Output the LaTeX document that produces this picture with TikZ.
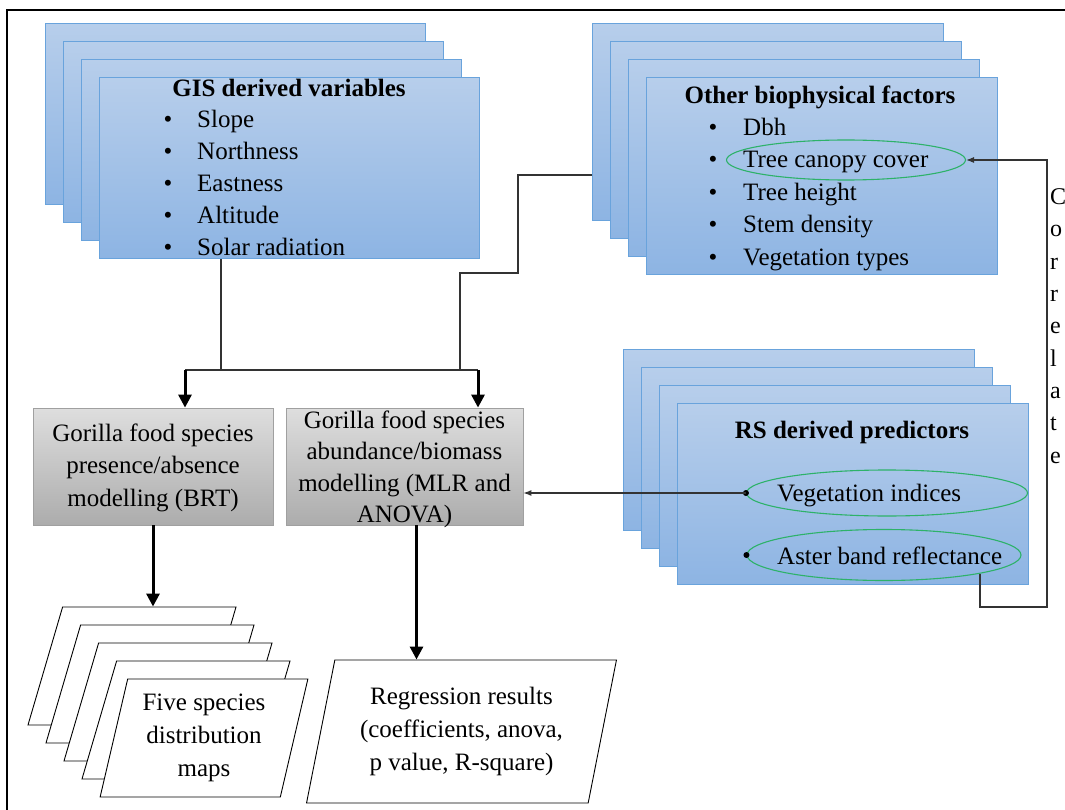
\documentclass[tikz,border=0pt]{standalone}
\usepackage{fontspec}
\setmainfont{Liberation Serif}
\usepackage{xcolor}
\usetikzlibrary{arrows.meta,shapes.geometric}

\definecolor{cardtop}{RGB}{183,206,235}
\definecolor{cardbot}{RGB}{141,180,227}
\definecolor{cardline}{RGB}{105,163,220}
\definecolor{boxtop}{RGB}{222,222,222}
\definecolor{boxbot}{RGB}{172,172,172}
\definecolor{boxline}{RGB}{160,160,160}
\definecolor{ovalline}{RGB}{45,178,105}

\tikzset{
  txt/.style={font=\fontsize{25}{32.5}\selectfont, inner sep=0pt},
  card/.style={rectangle, draw=cardline, line width=1.2pt, top color=cardtop, bottom color=cardbot, anchor=north west, inner sep=0pt},
  ttl/.style={txt, font=\fontsize{25}{32}\selectfont\bfseries, anchor=base},
  itm/.style={txt, anchor=base west},
  dot/.style={txt, anchor=base},
  oval/.style={ellipse, draw=ovalline, line width=1.1pt, inner sep=0pt},
  model/.style={rectangle, draw=boxline, line width=0.8pt, top color=boxtop, bottom color=boxbot, minimum width=240pt, minimum height=117pt, inner sep=0pt},
  result/.style={txt, font=\fontsize{25}{33}\selectfont, trapezium, trapezium left angle=76, trapezium right angle=104, trapezium stretches=true, draw, fill=white, line width=0.9pt, inner sep=2pt, align=center},
  wire/.style={draw=black!80, line width=1.1pt},
  fat/.style={draw=black, line width=3pt, -{Triangle[length=13pt,width=13pt]}},
  tip/.style={-{Latex[length=8pt,width=6pt]}}
}

\begin{document}
\begin{tikzpicture}[x=1pt,y=-1pt]
  % \draw[help lines] (0,0) grid[step=50] (1065,810);
  \useasboundingbox (0,0) rectangle (1065,810);
  \clip (0,0) rectangle (1065,810);
  \draw[line width=1.6pt] (7,820) -- (7,10) -- (1075,10);

  % GIS stack
  \foreach \i in {0,...,2}
    \node[card, minimum width=380pt, minimum height=181pt] (gisc\i) at ({45+18*\i},{23+18*\i}) {};
  \node[card, minimum width=380pt, minimum height=181pt] (gis) at (99,77) {};
  \node[ttl] (gistitle) at (289,97) {GIS derived variables};
  \foreach \t [count=\k] in {Slope,Northness,Eastness,Altitude,Solar radiation} {
    \node[dot] (gisb\k) at (168,{95.5+32*\k}) {\textbullet};
    \node[itm] (gis\k) at (197,{95.5+32*\k}) {\t};
  }

  % biophysical stack
  \foreach \i in {0,...,2}
    \node[card, minimum width=351pt, minimum height=197pt] (bioc\i) at ({592+18*\i},{23+18*\i}) {};
  \node[card, minimum width=351pt, minimum height=197pt] (bio) at (646,77) {};
  \node[ttl] (biotitle) at (820,104) {Other biophysical factors};
  \foreach \t [count=\k] in {Dbh,Tree canopy cover,Tree height,Stem density,Vegetation types} {
    \node[dot] (biob\k) at (713,{103+32.5*\k}) {\textbullet};
    \node[itm] (bio\k) at (743,{103+32.5*\k}) {\t};
  }
  \node[oval, minimum width=239pt, minimum height=40pt] (canopy) at (846,160) {};

  % RS stack
  \foreach \i in {0,...,2}
    \node[card, minimum width=351pt, minimum height=181pt] (rsc\i) at ({623+18*\i},{349+18*\i}) {};
  \node[card, minimum width=351pt, minimum height=181pt] (rs) at (677,403) {};
  \node[ttl] (rstitle) at (852,438) {RS derived predictors};
  \node[oval, minimum width=281pt, minimum height=46pt] (vi) at (887,493) {};
  \node[itm] (vitext) at (777,501.5) {Vegetation indices};
  \node[oval, minimum width=274pt, minimum height=51pt] (aster) at (884,555) {};
  \node[itm] (astertext) at (777,564.5) {Aster band reflectance};
  \fill[black] (vi.west) circle (3pt);
  \fill[black] (aster.west) circle (3pt);
  \node[txt, anchor=west, align=left, font=\fontsize{24}{32.3}\selectfont] (corr) at (1050,326) {C\\o\\r\\r\\e\\l\\a\\t\\e};

  % models
  \node[model] (pa) at (153,466.5) {};
  \node[txt, align=center] (patext) at ([yshift=-1pt]pa.center) {Gorilla food species\\presence/absence\\modelling (BRT)};
  \node[model, minimum width=237pt] (ab) at (404.5,466.5) {};
  \node[txt, align=center, font=\fontsize{25}{31.5}\selectfont] (abtext) at ([yshift=-3pt]ab.center) {Gorilla food species\\abundance/biomass\\modelling (MLR and\\ANOVA)};

  % outputs
  \foreach \i in {0,...,3}
    \node[result, minimum width=208pt, minimum height=118pt] (mapc\i) at ({132+18*\i},{666+18*\i}) {};
  \node[result, minimum width=208pt, minimum height=118pt] (maps) at (204,738) {Five species\\distribution\\maps};
  \node[result, minimum width=311pt, minimum height=143pt] (reg) at (461.5,731.5) {Regression results\\(coefficients, anova,\\p value, R-square)};

  % connectors
  \coordinate (jL) at (185,370);
  \coordinate (jR) at (478,370);
  \coordinate (jG) at (221,370);
  \coordinate (kb1) at (518,175);
  \coordinate (kb2) at (460,273);
  \coordinate (kc) at (1047,607);
  \coordinate (abOut) at ([xshift=12pt]ab.south);
  \draw[wire] (gis.south -| jG) -- (jG);
  \draw[wire] (bioc0.west |- kb1) -- (kb1) |- (kb2) -- (kb2 |- jL);
  \draw[wire] (jL) -- (jR);
  \draw[fat] (jL) -- (pa.north -| jL);
  \draw[fat] (jR) -- (ab.north -| jR);
  \draw[fat] (pa.south) -- (pa.south |- mapc0.north);
  \draw[fat] (abOut) -- (abOut |- reg.north);
  \draw[wire, tip] (vi.west) -- (ab.east |- vi.west);
  \draw[wire, tip] (aster.-11) |- (kc) |- (canopy.east);
\end{tikzpicture}
\end{document}
